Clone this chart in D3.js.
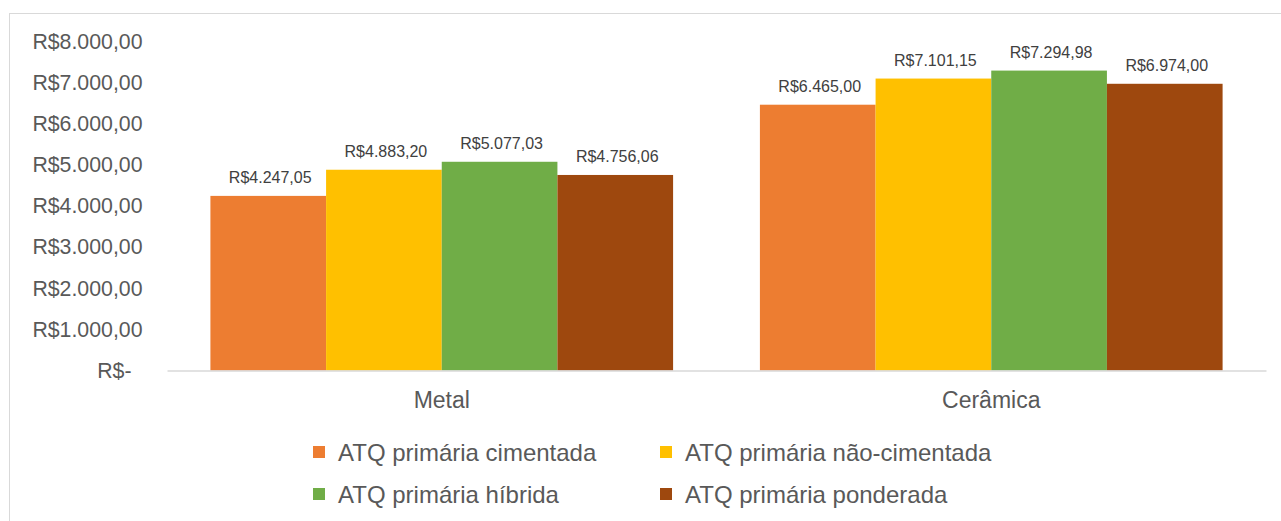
<!DOCTYPE html>
<html>
<head>
<meta charset="utf-8">
<script src="https://cdn.jsdelivr.net/npm/d3@7"></script>
<style>
  html, body { margin: 0; padding: 0; background: #fff; }
  svg { display: block; font-family: "Liberation Sans", Arial, sans-serif; }
</style>
</head>
<body>
<svg id="chart" width="1281" height="521"></svg>
<script>
// Categories (prosthesis material) and cost series per fixation type
const categories = ["Metal", "Cerâmica"];
const seriesNames = [
  "ATQ primária cimentada",
  "ATQ primária não-cimentada",
  "ATQ primária híbrida",
  "ATQ primária ponderada"
];
const cimentada    = [4247.05, 6465.00];
const naoCimentada = [4883.20, 7101.15];
const hibrida      = [5077.03, 7294.98];
const ponderada    = [4756.06, 6974.00];
const yTicks = [0, 1000, 2000, 3000, 4000, 5000, 6000, 7000, 8000];

const seriesValues = [cimentada, naoCimentada, hibrida, ponderada];
const colors = ["#ED7D31", "#FFC000", "#70AD47", "#9E480E"];

// Brazilian currency format
const ptBR = d3.formatLocale({
  decimal: ",", thousands: ".", grouping: [3], currency: ["R$", ""]
});
const money = ptBR.format("$,.2f");

const svg = d3.select("#chart");

// Outer chart frame
svg.append("rect")
  .attr("x", 9.5).attr("y", 13.5)
  .attr("width", 1300).attr("height", 560)
  .attr("fill", "#fff").attr("stroke", "#D9D9D9").attr("stroke-width", 1);

const x0 = d3.scaleBand()
  .domain(categories)
  .range([167, 1266])
  .paddingInner(0.158)
  .paddingOuter(0.079);

const x1 = d3.scaleBand()
  .domain(d3.range(seriesNames.length))
  .range([0, x0.bandwidth()]);

const y = d3.scaleLinear().domain([0, 8000]).range([370.5, 41.6]);

// Y axis labels (no axis line, no ticks)
const yAxis = d3.axisLeft(y)
  .tickValues(yTicks)
  .tickSize(0)
  .tickPadding(0)
  .tickFormat(d => d === 0 ? "R$-" : money(d));

const yg = svg.append("g")
  .attr("transform", "translate(142.5,0)")
  .call(yAxis);
yg.select(".domain").remove();
yg.selectAll("text")
  .attr("fill", "#595959")
  .style("font-size", "21.3px")
  .style("font-family", "'Liberation Sans', Arial, sans-serif")
  .attr("dx", d => d === 0 ? -11 : 0);

// Bars
const groups = svg.append("g")
  .selectAll("g")
  .data(categories)
  .join("g")
  .attr("transform", d => `translate(${x0(d)},0)`);

groups.selectAll("rect")
  .data((c, ci) => seriesValues.map((vals, si) => ({ si, v: vals[ci] })))
  .join("rect")
  .attr("x", d => x1(d.si))
  .attr("y", d => y(d.v))
  .attr("width", x1.bandwidth())
  .attr("height", d => y(0) - y(d.v))
  .attr("fill", d => colors[d.si]);

// Value labels above bars
groups.selectAll("text")
  .data((c, ci) => seriesValues.map((vals, si) => ({ si, v: vals[ci] })))
  .join("text")
  .attr("x", d => x1(d.si) + x1.bandwidth() / 2 + 2)
  .attr("y", d => y(d.v) - 12.5)
  .attr("text-anchor", "middle")
  .attr("fill", "#404040")
  .style("font-size", "16px")
  .text(d => money(d.v));

// X axis
const xAxis = d3.axisBottom(x0).tickSize(0).tickPadding(0);
const xg = svg.append("g")
  .attr("transform", `translate(0,${y(0)})`)
  .call(xAxis);
xg.select(".domain")
  .attr("stroke", "#D9D9D9").attr("stroke-width", 1.3);
xg.selectAll("text")
  .attr("fill", "#595959")
  .attr("y", 37.5).attr("dy", 0)
  .style("font-size", "23px")
  .style("font-family", "'Liberation Sans', Arial, sans-serif");

// Legend: two columns, two rows
const legendCols = [313, 660];
const legendRows = [446, 488];
const legend = svg.append("g")
  .selectAll("g")
  .data(seriesNames)
  .join("g")
  .attr("transform", (d, i) => `translate(${legendCols[i % 2]},${legendRows[Math.floor(i / 2)]})`);

legend.append("rect")
  .attr("width", 12).attr("height", 12)
  .attr("fill", (d, i) => colors[i]);

legend.append("text")
  .attr("x", 25).attr("y", 14.5)
  .attr("fill", "#595959")
  .style("font-size", "24px")
  .text(d => d);
</script>
</body>
</html>
